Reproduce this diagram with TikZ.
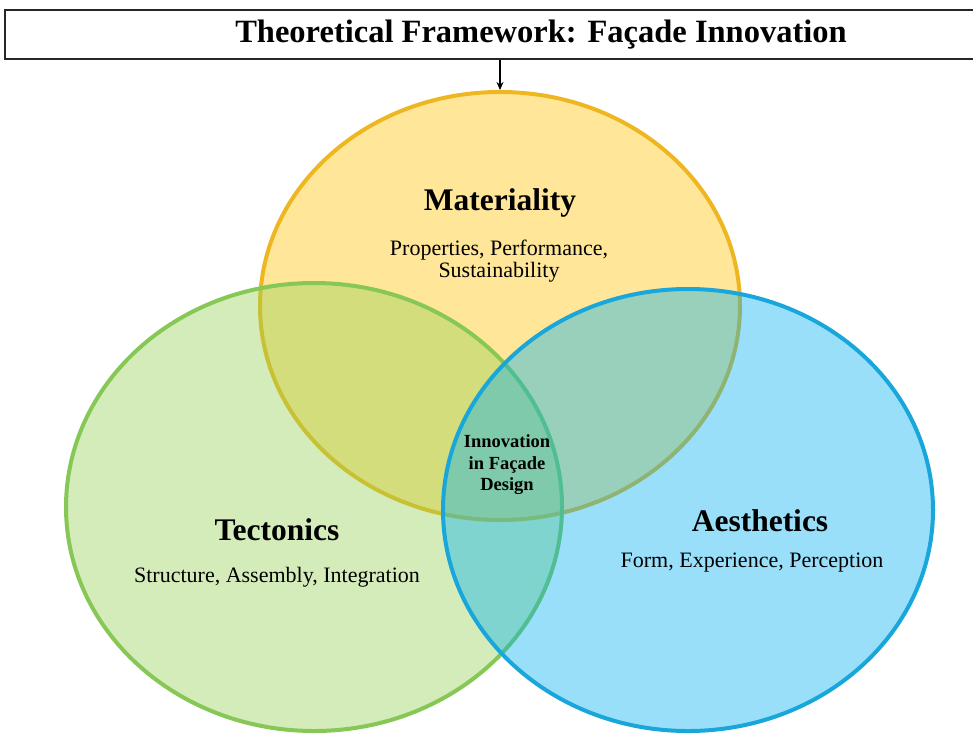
\documentclass[tikz,border=0pt]{standalone}
\usepackage{fontspec}
\setmainfont{Liberation Serif}
\usepackage{tikz}
\usepackage{xcolor}
\usetikzlibrary{shapes.geometric,arrows.meta}

\definecolor{matline}{HTML}{EEB722}
\definecolor{matfill}{HTML}{FFC000}
\definecolor{tecline}{HTML}{86C756}
\definecolor{tecfill}{HTML}{92D050}
\definecolor{aesline}{HTML}{19A6DB}
\definecolor{aesfill}{HTML}{00B0F0}

\begin{document}
\begin{tikzpicture}[x=1pt,y=-1pt]%
  \tikzstyle{titlebox}=[rectangle,draw=black!85,line width=2.8pt,inner sep=0,
    minimum width=1072pt,minimum height=49pt,font=\fontsize{32.5}{34}\selectfont\bfseries]
  \tikzstyle{circ}=[ellipse,inner sep=0,line width=4pt,fill opacity=0.4]
  \tikzstyle{head}=[font=\fontsize{31.5}{33}\selectfont\bfseries]
  \tikzstyle{sub}=[font=\fontsize{22}{22}\selectfont,align=center]
  \tikzstyle{core}=[font=\fontsize{18.5}{21.5}\selectfont\bfseries,align=center]
  \useasboundingbox (0,0) rectangle (973,734);
  \node(title)[titlebox] at (541,34.5) {Theoretical Framework: Fa\c{c}ade Innovation};
  % the three sets
  \node(mat)[circ,draw=matline,fill=matfill,minimum width=480pt,minimum height=428pt] at (500,306) {};
  \node(tec)[circ,draw=tecline,fill=tecfill,minimum width=496pt,minimum height=448pt] at (314,507) {};
  \node(aes)[circ,draw=aesline,fill=aesfill,minimum width=490pt,minimum height=442pt] at (688,510) {};
  \draw[-{Stealth[length=8pt,width=7pt]},line width=1.3pt] (mat.north |- title.south) -- (mat.north);
  % labels
  \node(matH)[head] at (500,203) {Materiality};
  \node(matS)[sub] at (499,261) {Properties, Performance,\\Sustainability};
  \node(tecH)[head] at (277,530) {Tectonics};
  \node(tecS)[sub] at (277,577) {Structure, Assembly, Integration};
  \node(aesH)[head] at (760,521) {Aesthetics};
  \node(aesS)[sub] at (752,563) {Form, Experience, Perception};
  \node(mid)[core] at (507,465) {Innovation\\in Fa\c{c}ade\\Design};
\end{tikzpicture}
\end{document}
